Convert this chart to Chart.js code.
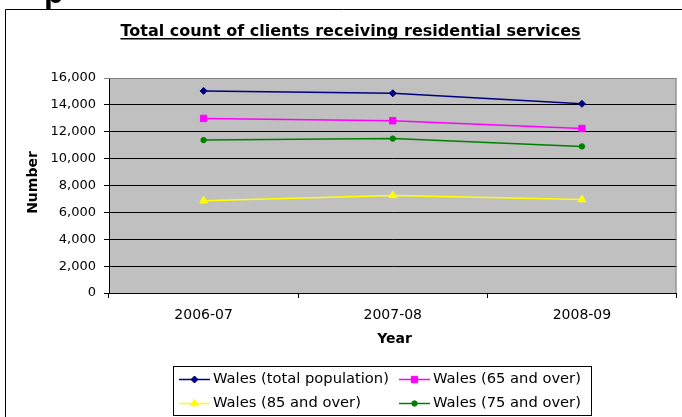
<!DOCTYPE html>
<html>

<head>
    <meta charset="utf-8">
    <script src="https://cdn.jsdelivr.net/npm/chart.js@4.4.1/dist/chart.umd.min.js"></script>
    <title>Residential services</title>
    <style>
        html, body { margin: 0; padding: 0; background: #fff; overflow: hidden; }
        #wrap { position: relative; width: 682px; height: 417px; }
        #head { position: absolute; left: 44px; top: -26px; font: bold 32px "Liberation Sans", Arial, sans-serif; color: #000; }
        canvas { position: absolute; left: 0; top: 0; }
    </style>
</head>

<body>
    <div id="wrap">
        <canvas id="line-chart" width="682" height="417"></canvas>
        <div id="head">p</div>
    </div>
    <script>
        const years = ['2006-07', '2007-08', '2008-09'];
        const seriesNames = ['Wales (total population)', 'Wales (65 and over)', 'Wales (85 and over)', 'Wales (75 and over)'];
        const totalPop = [15040, 14860, 14080];
        const over65 = [12990, 12820, 12240];
        const over85 = [6870, 7260, 6960];
        const over75 = [11380, 11490, 10910];

        const yMin = 0, yMax = 16000, yStep = 2000;

        const FONT = '"DejaVu Sans", Verdana, sans-serif';

        function makeSet(label, data, color, style, radius) {
            return {
                label: label,
                data: data,
                borderColor: color,
                backgroundColor: color,
                pointBackgroundColor: color,
                pointBorderColor: color,
                pointStyle: style,
                pointRadius: radius,
                pointBorderWidth: 1,
                borderWidth: 1.5,
                tension: 0
            };
        }

        // frame, title, axis names and the boxed legend
        const decor = {
            id: 'decor',
            beforeDraw(chart) {
                const c = chart.ctx, a = chart.chartArea;
                c.save();
                c.fillStyle = '#c0c0c0';
                c.fillRect(a.left, a.top, a.right - a.left, a.bottom - a.top);
                c.restore();
            },
            beforeDatasetsDraw(chart) {
                const c = chart.ctx, a = chart.chartArea;
                c.save();
                c.strokeStyle = '#808080';
                c.lineWidth = 1;
                c.beginPath();
                c.moveTo(a.left, a.top + 0.5);
                c.lineTo(a.right - 0.5, a.top + 0.5);
                c.lineTo(a.right - 0.5, a.bottom);
                c.stroke();
                c.restore();
            },
            afterDraw(chart) {
                const c = chart.ctx;
                c.save();
                // outer chart border
                c.strokeStyle = '#000';
                c.lineWidth = 1;
                c.beginPath();
                c.moveTo(5.5, 417);
                c.lineTo(5.5, 9.5);
                c.lineTo(682, 9.5);
                c.stroke();

                // title
                const title = 'Total count of clients receiving residential services';
                c.fillStyle = '#000';
                c.font = 'bold 16px ' + FONT;
                c.textAlign = 'center';
                c.textBaseline = 'alphabetic';
                c.fillText(title, 350.5, 36);
                const tw = c.measureText(title).width;
                c.fillRect(350.5 - tw / 2, 38, tw, 1.5);

                // axis names
                c.font = 'bold 14px ' + FONT;
                c.textBaseline = 'middle';
                c.fillText('Year', 394.5, 339);
                c.save();
                c.translate(33.5, 182.5);
                c.rotate(-Math.PI / 2);
                c.fillText('Number', 0, 0);
                c.restore();

                // legend
                c.fillStyle = '#fff';
                c.fillRect(173.5, 366.5, 418, 49);
                c.strokeStyle = '#000';
                c.strokeRect(173.5, 366.5, 418, 49);
                c.font = '14.7px ' + FONT;
                c.textAlign = 'left';
                chart.data.datasets.forEach((ds, i) => {
                    const x0 = 179 + (i % 2) * 220;
                    const y0 = 379.5 + Math.floor(i / 2) * 24;
                    c.strokeStyle = ds.borderColor;
                    c.lineWidth = 1.5;
                    c.beginPath();
                    c.moveTo(x0, y0);
                    c.lineTo(x0 + 31, y0);
                    c.stroke();
                    c.fillStyle = ds.pointBackgroundColor;
                    c.strokeStyle = ds.pointBorderColor;
                    c.lineWidth = 1;
                    Chart.helpers.drawPoint(c, {
                        pointStyle: ds.pointStyle,
                        radius: ds.pointRadius,
                        rotation: 0,
                        borderWidth: 1
                    }, x0 + 15.5, y0);
                    c.fillStyle = '#000';
                    c.fillText(ds.label, x0 + 34, y0);
                });
                c.restore();
            }
        };

        new Chart(document.getElementById('line-chart'), {
            type: 'line',
            data: {
                labels: years,
                datasets: [
                    makeSet(seriesNames[0], totalPop, '#000080', 'rectRot', 3.5),
                    makeSet(seriesNames[1], over65, '#ff00ff', 'rect', 4.5),
                    makeSet(seriesNames[2], over85, '#ffff00', 'triangle', 4.5),
                    makeSet(seriesNames[3], over75, '#008000', 'circle', 2.7)
                ]
            },
            options: {
                responsive: false,
                animation: false,
                layout: { padding: { top: 78, left: 0, right: 2, bottom: 0 } },
                plugins: {
                    legend: { display: false },
                    title: { display: false },
                    tooltip: { enabled: false }
                },
                scales: {
                    x: {
                        offset: true,
                        afterFit(scale) { scale.height = 124; },
                        grid: {
                            offset: true,
                            drawOnChartArea: false,
                            color: '#000',
                            tickLength: 5
                        },
                        border: { color: '#000' },
                        ticks: {
                            color: '#000',
                            padding: 9,
                            font: { family: FONT, size: 14 },
                            maxRotation: 0
                        }
                    },
                    y: {
                        min: yMin,
                        max: yMax,
                        afterFit(scale) { scale.width = 109; },
                        grid: {
                            color: (ctx) => ctx.tick && ctx.tick.value === yMax ? '#808080' : '#000',
                            tickLength: 5
                        },
                        border: { color: '#000' },
                        ticks: {
                            stepSize: yStep,
                            color: '#000',
                            padding: 8,
                            font: { family: FONT, size: 13 },
                            callback: (v) => v.toLocaleString('en-US')
                        }
                    }
                }
            },
            plugins: [decor]
        });
    </script>
</body>

</html>
